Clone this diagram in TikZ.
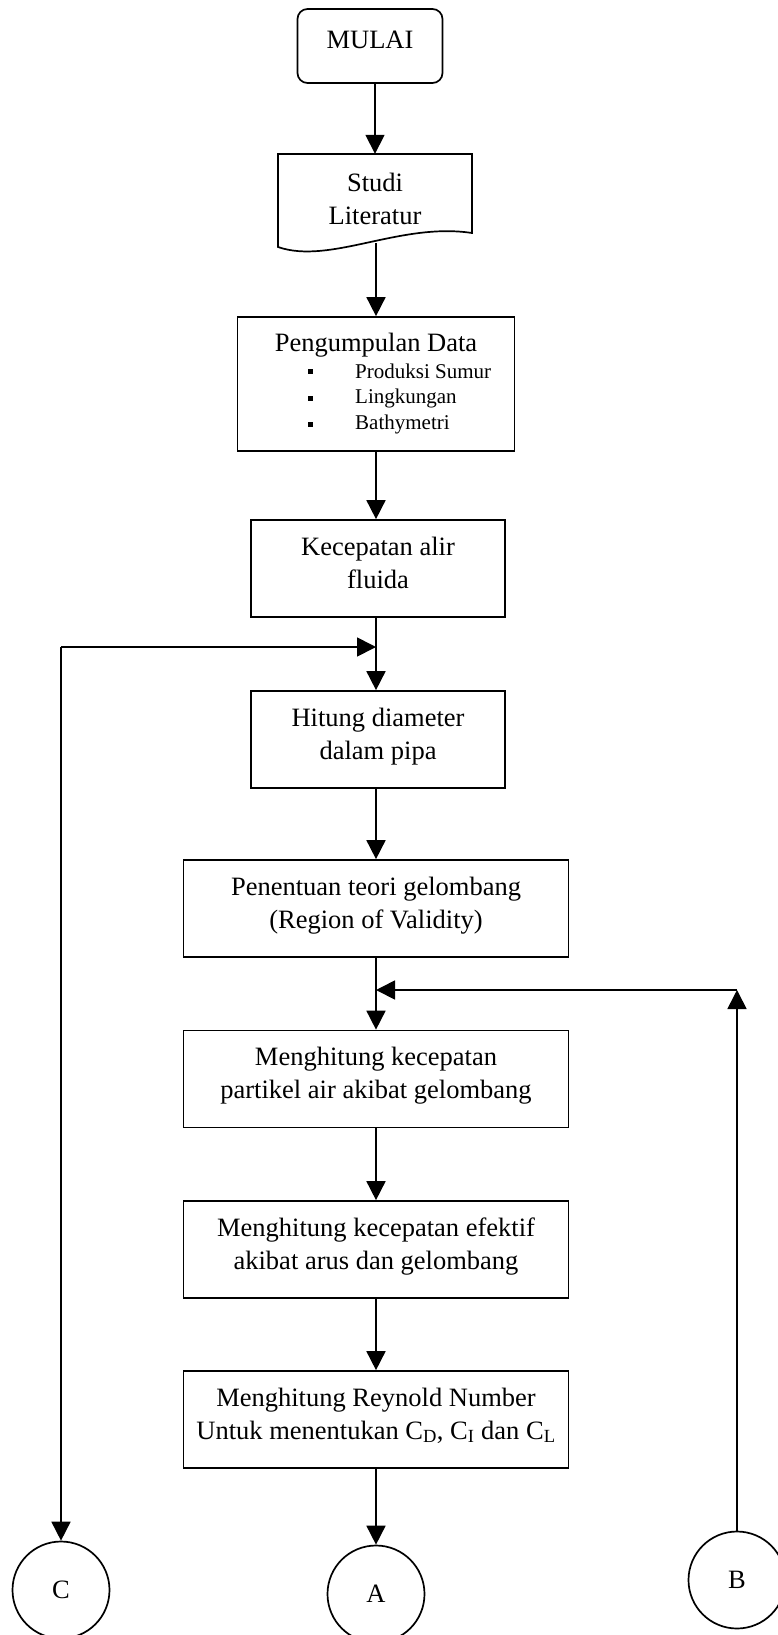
\documentclass[tikz,border=0pt]{standalone}
\usepackage{fontspec}
\setmainfont{Liberation Serif}
\usepackage{tikz}
\usetikzlibrary{shapes}
\usetikzlibrary{arrows.meta}

\tikzset{
  ln/.style={line width=1.7pt},
  box/.style={draw, ln, minimum width=254pt, minimum height=97pt, align=center, inner sep=0pt, text depth=12pt},
  widebox/.style={box, minimum width=385pt},
  conn/.style={draw, ln, circle, minimum size=97pt, inner sep=0pt},
  arr/.style={ln, -{Triangle[length=19pt,width=19pt]}},
  bul/.style={fill, minimum size=5pt, inner sep=0pt},
  itemtext/.style={anchor=west, inner sep=0pt, font=\fontsize{21}{26}\selectfont}
}

\begin{document}
\begin{tikzpicture}[x=1pt,y=-1pt,font=\fontsize{26.5}{33}\selectfont]
\useasboundingbox (0,0) rectangle (778,1635);

\node[box, rounded corners=10pt, minimum width=145pt, minimum height=74pt] (mulai) at (370,46) {MULAI};

\node[minimum width=194pt, minimum height=89pt, inner sep=0pt, align=center] (studi) at (375,198.5) {Studi\\Literatur};
\draw[ln] (278,154) -- (472,154) -- (472,233) .. controls (400,222) and (330,265) .. (278,247) -- cycle;

\node[box, minimum width=277pt, minimum height=134pt] (data) at (376,384) {};
\node (datatitle) at (376,345) {Pengumpulan Data};
\foreach \t [count=\i] in {Produksi Sumur, Lingkungan, Bathymetri} {
  \node[bul] (bul\i) at (310,345+\i*26.5) {};
  \node[itemtext] (item\i) at (355,345+\i*26.5) {\t};
}

\node[box] (kec) at (378,568.5) {Kecepatan alir\\fluida};
\node[box] (hitung) at (378,739.5) {Hitung diameter\\dalam pipa};
\node[widebox] (teori) at (376,908.5) {Penentuan teori gelombang\\(Region of Validity)};
\node[widebox] (partikel) at (376,1079) {Menghitung kecepatan\\partikel air akibat gelombang};
\node[widebox] (efektif) at (376,1249.5) {Menghitung kecepatan efektif\\akibat arus dan gelombang};
\node[widebox] (reynold) at (376,1419.5) {Menghitung Reynold Number\\Untuk menentukan C\textsubscript{D}, C\textsubscript{I} dan C\textsubscript{L}};

\node[conn] (C) at (61,1590) {C};
\node[conn] (A) at (376,1594) {A};
\node[conn] (B) at (737,1580) {B};

\coordinate (cjoin) at (376,647);
\coordinate (cturn) at (61,647);
\coordinate (bjoin) at (376,990);
\coordinate (bturn) at (737,990);

\draw[arr] (mulai.south -| studi.north) -- (studi.north);
\draw[arr] (376,243) -- (data.north);
\draw[arr] (data.south) -- (data.south |- kec.north);
\draw[ln] (kec.south -| cjoin) -- (cjoin);
\draw[arr] (cjoin) -- (cjoin |- hitung.north);
\draw[arr] (hitung.south -| teori.north) -- (teori.north);
\draw[ln] (teori.south) -- (bjoin);
\draw[arr] (bjoin) -- (partikel.north);
\draw[arr] (partikel.south) -- (efektif.north);
\draw[arr] (efektif.south) -- (reynold.north);
\draw[arr] (reynold.south) -- (A.north);

\draw[arr] (cturn) -- (cjoin);
\draw[arr] (cturn) -- (C.north);
\draw[arr] (B.north) -- (bturn);
\draw[arr] (bturn) -- (bjoin);

\end{tikzpicture}
\end{document}
